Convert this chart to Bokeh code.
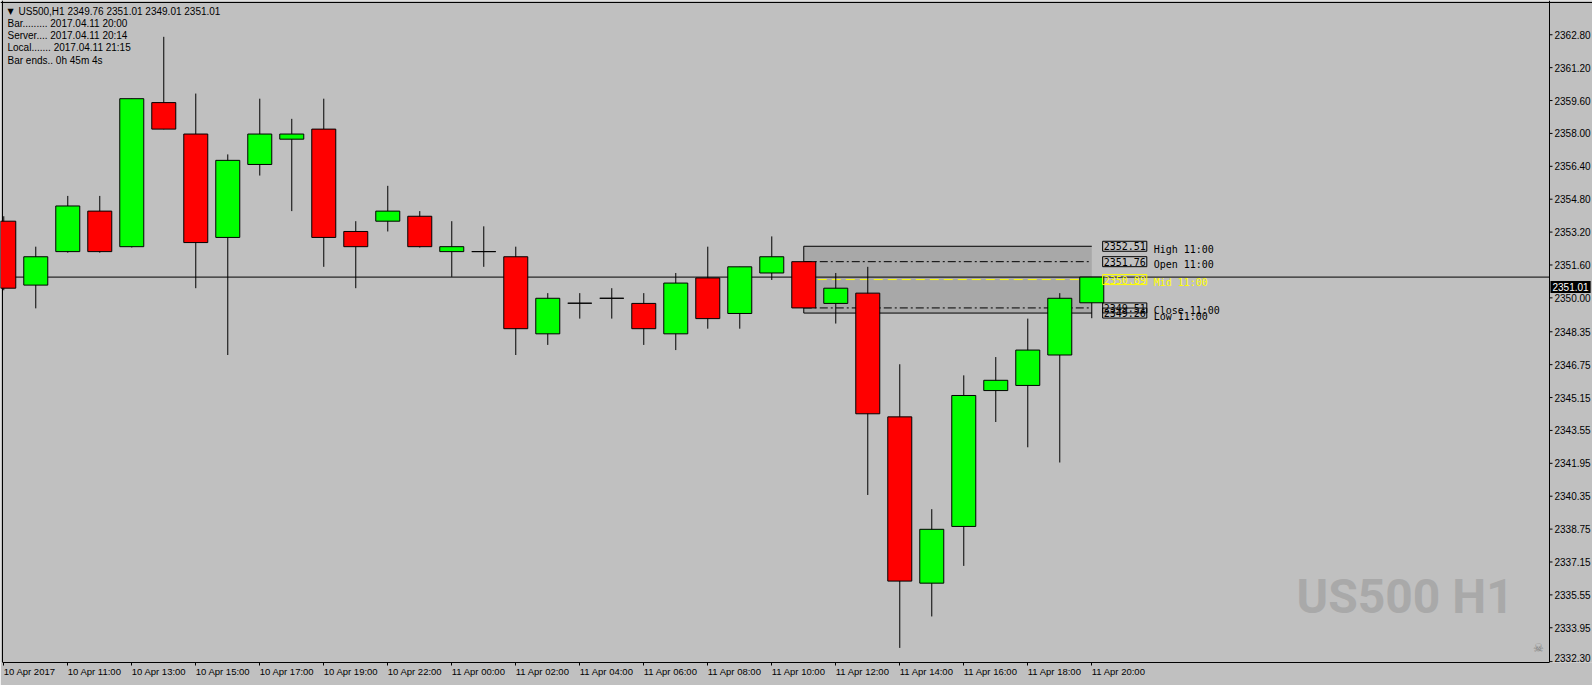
from bokeh.plotting import figure
from bokeh.models import (Range1d, FixedTicker, Label, LabelSet, ColumnDataSource)
from bokeh.core.properties import value
from bokeh.embed import file_html
from bokeh.resources import INLINE

# ---------------- data (US500, H1) ----------------
bar_times = ["10 Apr 09:00", "10 Apr 10:00", "10 Apr 11:00", "10 Apr 12:00", "10 Apr 13:00",
             "10 Apr 14:00", "10 Apr 15:00", "10 Apr 16:00", "10 Apr 17:00", "10 Apr 18:00",
             "10 Apr 19:00", "10 Apr 20:00", "10 Apr 22:00", "10 Apr 23:00", "11 Apr 00:00",
             "11 Apr 01:00", "11 Apr 02:00", "11 Apr 03:00", "11 Apr 04:00", "11 Apr 05:00",
             "11 Apr 06:00", "11 Apr 07:00", "11 Apr 08:00", "11 Apr 09:00", "11 Apr 10:00",
             "11 Apr 11:00", "11 Apr 12:00", "11 Apr 13:00", "11 Apr 14:00", "11 Apr 15:00",
             "11 Apr 16:00", "11 Apr 17:00", "11 Apr 18:00", "11 Apr 19:00", "11 Apr 20:00"]
opens = [2353.73, 2350.62, 2352.25, 2354.22, 2352.49, 2359.50, 2357.97, 2352.94, 2356.49, 2357.72,
         2358.21, 2353.23, 2353.73, 2353.97, 2352.25, 2352.25, 2352.00, 2348.25, 2349.74, 2349.98,
         2349.73, 2348.25, 2350.97, 2349.24, 2351.21, 2351.76, 2349.73, 2350.23, 2344.21, 2336.12,
         2338.88, 2345.49, 2345.74, 2347.22, 2349.76]
highs = [2353.97, 2352.49, 2354.96, 2354.96, 2359.69, 2362.70, 2359.94, 2356.98, 2359.69, 2358.71,
         2359.69, 2353.73, 2355.45, 2354.22, 2353.73, 2353.48, 2352.49, 2350.23, 2350.23, 2350.47,
         2350.23, 2351.21, 2352.49, 2351.51, 2352.99, 2352.51, 2351.21, 2351.51, 2346.77, 2339.72,
         2346.23, 2347.12, 2348.99, 2350.23, 2351.01]
lows = [2350.37, 2349.49, 2352.20, 2352.20, 2352.45, 2358.20, 2350.47, 2347.22, 2355.95, 2354.22,
        2351.51, 2350.47, 2353.23, 2352.45, 2351.02, 2351.51, 2347.22, 2347.71, 2348.99, 2348.99,
        2347.71, 2347.46, 2348.50, 2348.50, 2350.87, 2349.26, 2348.75, 2340.41, 2332.97, 2334.50,
        2336.96, 2343.96, 2342.73, 2341.99, 2349.01]
closes = [2350.47, 2352.00, 2354.47, 2352.25, 2359.69, 2358.21, 2352.69, 2356.69, 2357.97, 2357.97,
          2352.94, 2352.49, 2354.22, 2352.49, 2352.49, 2352.25, 2348.50, 2349.98, 2349.74, 2349.98,
          2348.50, 2350.72, 2348.99, 2351.51, 2352.00, 2349.51, 2350.47, 2344.36, 2336.22, 2338.74,
          2345.25, 2345.99, 2347.46, 2349.98, 2351.01]

x_tick_bars = [0, 2, 4, 6, 8, 10, 12, 14, 16, 18, 20, 22, 24, 26, 28, 30, 32, 34]
x_tick_labels = ["10 Apr 2017", "10 Apr 11:00", "10 Apr 13:00", "10 Apr 15:00", "10 Apr 17:00",
                 "10 Apr 19:00", "10 Apr 22:00", "11 Apr 00:00", "11 Apr 02:00", "11 Apr 04:00",
                 "11 Apr 06:00", "11 Apr 08:00", "11 Apr 10:00", "11 Apr 12:00", "11 Apr 14:00",
                 "11 Apr 16:00", "11 Apr 18:00", "11 Apr 20:00"]
y_ticks = [2362.80, 2361.20, 2359.60, 2358.00, 2356.40, 2354.80, 2353.20, 2351.60, 2350.00,
           2348.35, 2346.75, 2345.15, 2343.55, 2341.95, 2340.35, 2338.75, 2337.15, 2335.55,
           2333.95, 2332.30]

ref_bar = 25            # the "11:00" bar whose levels are marked
info_lines = ["Bar......... 2017.04.11 20:00", "Server.... 2017.04.11 20:14",
              "Local....... 2017.04.11 21:15", "Bar ends.. 0h 45m 4s"]

# ---------------- geometry of the chart window ----------------
BG = "#c0c0c0"
PX = 32.0                      # pixels per bar
X0 = -0.04                     # bar coordinate at the chart's left border
CHART_W = 1547                 # chart width (px) up to the price scale
x_border = X0 + CHART_W / PX   # price-scale line
y_low, y_high = 2332.26, 2364.37
FRAME_H = 662
PY = FRAME_H / (y_high - y_low)

p = figure(width=1592, height=685,
           x_range=Range1d(X0 - 2 / PX, X0 + 1590 / PX),
           y_range=Range1d(y_low, y_high + 2 / PY),
           y_axis_location=None, output_backend="svg", toolbar_location=None,
           min_border_left=0, min_border_top=0, min_border_right=0, min_border_bottom=21,
           background_fill_color=BG, border_fill_color=BG, outline_line_color=None)
p.grid.visible = False

AX_FONT = "Liberation Sans"

# time axis (Bokeh axis), labels left-aligned at their ticks
xa = p.xaxis[0]
xa.ticker = FixedTicker(ticks=x_tick_bars)
xa.major_label_overrides = {b: t for b, t in zip(x_tick_bars, x_tick_labels)}
xa.major_label_orientation = -1e-6
xa.bounds = (X0, x_border)
xa.major_label_standoff = 6
xa.major_tick_out = 3
xa.major_tick_in = 0
xa.minor_tick_out = 0
xa.minor_tick_in = 0
xa.axis_line_color = "black"
xa.major_tick_line_color = "black"
xa.major_label_text_font = AX_FONT
xa.major_label_text_font_size = "9.5px"
xa.major_label_text_color = "black"

# chart window borders (left, top) and price scale line
p.vspan(x=[X0, x_border], line_color="black", line_width=1)
p.hspan(y=[y_high], line_color="black", line_width=1)

# price scale: ticks + labels (lowest label lifted so it stays inside the window)
p.segment(x0=[x_border] * len(y_ticks), x1=[x_border + 3 / PX] * len(y_ticks), y0=y_ticks, y1=y_ticks,
          line_color="black", line_width=1)
yl_src = ColumnDataSource(dict(x=[x_border] * len(y_ticks), y=y_ticks,
                               text=[f"{t:.2f}" for t in y_ticks],
                               dy=[0] * (len(y_ticks) - 1) + [4]))
p.add_layout(LabelSet(x="x", y="y", text="text", source=yl_src, x_offset=5, y_offset="dy",
                      text_align="left", text_baseline="middle", text_font=value(AX_FONT),
                      text_font_size="10px", text_color="black"))

# ---------------- data sources ----------------
n = len(opens)
idx = list(range(n))
src = ColumnDataSource(dict(
    x=idx, open=opens, high=highs, low=lows, close=closes,
    top=[max(o, c) for o, c in zip(opens, closes)],
    bottom=[min(o, c) for o, c in zip(opens, closes)],
    color=["#00ff00" if c >= o else "#ff0000" for o, c in zip(opens, closes)],
))

last = n - 1
rh, rl = highs[ref_bar], lows[ref_bar]
ro, rc = opens[ref_bar], closes[ref_bar]
rm = round((rh + rl) / 2, 2)

# range rectangle of the 11:00 bar (background object)
p.quad(left=[ref_bar], right=[last], top=[rh], bottom=[rl], fill_color="#a8a8a8", line_color=None)

# current price line (up to the price scale)
p.segment(x0=[X0], x1=[x_border], y0=[closes[-1]], y1=[closes[-1]], line_color="black", line_width=1)

# level lines
p.segment(x0=[ref_bar, ref_bar], x1=[last, last], y0=[rh, rl], y1=[rh, rl], line_color="black", line_width=1)
p.segment(x0=[ref_bar, ref_bar], x1=[last, last], y0=[ro, rc], y1=[ro, rc], line_color="black",
          line_width=1, line_dash="8 3 2 3")
p.segment(x0=[ref_bar], x1=[last], y0=[rm], y1=[rm], line_color="yellow", line_width=1, line_dash="9 5")

# candles
p.segment(x0="x", y0="low", x1="x", y1="high", source=src, line_color="black", line_width=1)
p.vbar(x="x", width=0.75, top="top", bottom="bottom", source=src, fill_color="color",
       line_color="black", line_width=1)

# ---------------- level labels ----------------
MONO = "DejaVu Sans Mono"
box_x = last + 0.34
levels = [("High", rh, "black"), ("Open", ro, "black"), ("Mid", rm, "yellow"),
          ("Close", rc, "black"), ("Low", rl, "black")]
hour = bar_times[ref_bar].split(" ")[-1]
for name, val, col in levels:
    p.add_layout(Label(x=box_x, y=val, text=f"{val:.2f}", text_align="left", text_baseline="middle",
                       text_font=MONO, text_font_size="10px", text_color=col,
                       border_line_color=col, border_line_width=1, padding=1))
    p.add_layout(Label(x=box_x, y=val, x_offset=51, y_offset=-3, text=f"{name} {hour}",
                       text_align="left", text_baseline="middle",
                       text_font=MONO, text_font_size="10px", text_color=col))

# current price tag on the price scale
p.add_layout(Label(x=x_border, x_offset=1, y=closes[-1], y_offset=-10, text=f"{closes[-1]:.2f}",
                   text_align="left", text_baseline="middle", text_font=AX_FONT,
                   text_font_size="10px", text_color="white", background_fill_color="black",
                   padding=2))

# ---------------- info texts (top-left, screen units from frame bottom-left) ----------------
ohlc_txt = f"{opens[-1]:.2f} {highs[-1]:.2f} {lows[-1]:.2f} {closes[-1]:.2f}"
p.add_layout(Label(x=7, y=651, x_units="screen", y_units="screen", text="▼", text_baseline="middle",
                   text_font="DejaVu Sans", text_font_size="8px", text_color="black"))
p.add_layout(Label(x=18, y=651, x_units="screen", y_units="screen", text="US500,H1", text_baseline="middle",
                   text_font=AX_FONT, text_font_size="10px", text_color="black"))
p.add_layout(Label(x=67, y=651, x_units="screen", y_units="screen", text=ohlc_txt, text_baseline="middle",
                   text_font=AX_FONT, text_font_size="10px", text_color="black"))
for i, line in enumerate(info_lines):
    p.add_layout(Label(x=7, y=639 - 12.2 * i, x_units="screen", y_units="screen", text=line,
                       text_baseline="middle", text_font=AX_FONT, text_font_size="10px",
                       text_color="black"))

# watermark + icon
p.add_layout(Label(x=1296, y=66, x_units="screen", y_units="screen", text="US500 H1",
                   text_baseline="alphabetic", text_font="Roboto",
                   text_font_style="bold", text_font_size="48px", text_color="#a9a9a9"))
p.add_layout(Label(x=1538, y=15, x_units="screen", y_units="screen", text="☠",
                   text_align="center", text_baseline="middle", text_font="DejaVu Sans",
                   text_font_size="12px", text_color="#808080"))

open("out.html", "w").write(file_html(p, INLINE))
